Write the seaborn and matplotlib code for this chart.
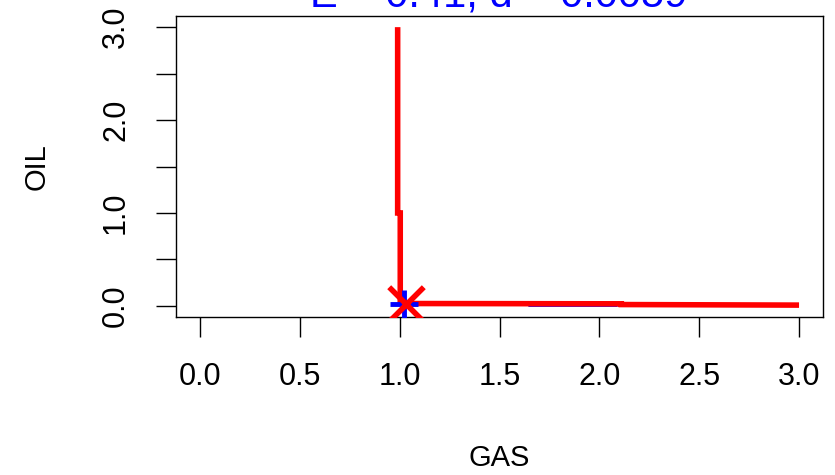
import matplotlib
matplotlib.use("Agg")
import matplotlib.pyplot as plt
import seaborn as sns
import pandas as pd

# data
frontier_gas = [0.99, 0.99, 1.003, 1.003, 1.05, 2.11, 2.11, 3.0]
frontier_oil = [3.0, 1.0, 1.0, 0.05, 0.025, 0.022, 0.014, 0.008]
blue_gas = [1.65, 2.09]
blue_oil = [0.0, 0.0]
point_gas = [1.02]
point_oil = [0.025]
cross_gas = [1.03]
cross_oil = [0.022]
title_text = "E = 0.41, d = 0.0059"
x_ticks = [0.0, 0.5, 1.0, 1.5, 2.0, 2.5, 3.0]
x_ticklabels = ["0.0", "0.5", "1.0", "1.5", "2.0", "2.5", "3.0"]
y_ticks = [0.0, 0.5, 1.0, 1.5, 2.0, 2.5, 3.0]
y_ticklabels = ["0.0", "", "1.0", "", "2.0", "", "3.0"]

sns.set_style("white")
plt.rcParams['font.family'] = ['Liberation Sans', 'DejaVu Sans']
plt.rcParams['text.color'] = 'black'
plt.rcParams['axes.labelcolor'] = 'black'
plt.rcParams['xtick.color'] = 'black'
plt.rcParams['ytick.color'] = 'black'

fig = plt.figure(figsize=(8.35, 4.75), dpi=100)
ax = fig.add_axes([176/835, 1 - 317/475, (823 - 176)/835, (317 - 16)/475])

df_front = pd.DataFrame({"gas": frontier_gas, "oil": frontier_oil})
df_blue = pd.DataFrame({"gas": blue_gas, "oil": blue_oil})

sns.lineplot(data=df_blue, x="gas", y="oil", sort=False, estimator=None,
             color="blue", linewidth=1.3, ax=ax)
sns.lineplot(data=df_front, x="gas", y="oil", sort=False, estimator=None,
             color="red", linewidth=4.0, ax=ax)
ax.lines[-1].set_solid_joinstyle("miter")
ax.lines[-1].set_solid_capstyle("butt")
sns.scatterplot(x=point_gas, y=point_oil, marker="+", s=420, color="blue",
                linewidth=3.5, ax=ax, zorder=5)
sns.scatterplot(x=cross_gas, y=cross_oil, marker="x", s=620, color="red",
                linewidth=4, ax=ax, zorder=6)

ax.set_xlim(-0.12, 3.12)
ax.set_ylim(-0.12, 3.12)
ax.set_xticks(x_ticks)
ax.set_xticklabels(x_ticklabels)
ax.set_yticks(y_ticks)
ax.set_yticklabels(y_ticklabels, rotation=90, va="center")
ax.tick_params(axis="both", direction="out", length=14.4, width=1.0,
               color="black", labelcolor="black", labelsize=22, pad=18,
               bottom=True, left=True)
for s in ax.spines.values():
    s.set_color("black")
    s.set_linewidth(1.0)
ax.set_xlabel("GAS", fontsize=21, color="black")
ax.set_ylabel("OIL", fontsize=21, color="black")
ax.xaxis.set_label_coords(0.5, -(458 - 317) / 301, transform=ax.transAxes)
ax.yaxis.set_label_coords(-(176 - 37) / 647, 0.5, transform=ax.transAxes)
ax.xaxis.label.set_va("center")
ax.yaxis.label.set_va("center")

fig.text(499/835, 1 - 7/475, title_text, ha="center", va="baseline",
         fontsize=30, color="blue")

fig.savefig("out.png", dpi=100)
